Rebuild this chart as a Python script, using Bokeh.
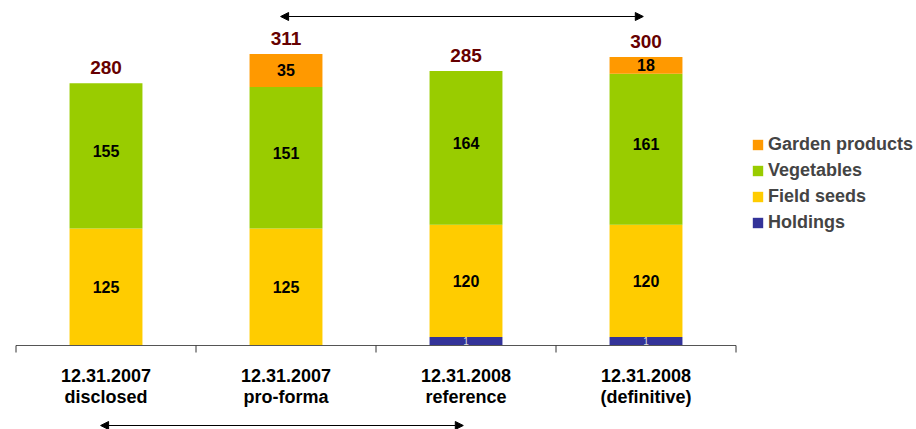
import numpy as np
from bokeh.plotting import figure
from bokeh.models import ColumnDataSource, Legend, LegendItem, Arrow, NormalHead, Range1d
from bokeh.core.properties import value
from bokeh.embed import file_html
from bokeh.resources import INLINE

# ---------------- data ----------------
cat_line1 = ["12.31.2007", "12.31.2007", "12.31.2008", "12.31.2008"]
cat_line2 = ["disclosed", "pro-forma", "reference", "(definitive)"]
holdings = [0, 0, 1, 1]
field_seeds = [125, 125, 120, 120]
vegetables = [155, 151, 164, 161]
garden_products = [0, 35, 0, 18]
totals = [280, 311, 285, 300]
series_names = ["Holdings", "Field seeds", "Vegetables", "Garden products"]
series_colors = ["#333399", "#FFCC00", "#99CC00", "#FF9900"]

# ---------------- layout constants ----------------
W, H = 916, 429
PX_X = 180.0      # pixels per category
X0 = 105.5        # pixel of first category centre
PX_Y = 0.937      # pixels per unit
AXIS_Y = 345      # pixel row of the zero line
FONT_NAME = "Liberation Sans"
FONT = value(FONT_NAME)
MIN_VISIBLE = 9   # minimum drawn height for tiny segments
VEG_NUDGE_PX = 5  # vegetables labels sit a little above segment centre
TOTAL_GAP_PX = 15.5

n = len(cat_line1)
x = np.arange(n, dtype=float)
hold_draw = np.array([max(v, MIN_VISIBLE) if v > 0 else 0 for v in holdings], dtype=float)
fs = np.array(field_seeds, dtype=float)
vg = np.array(vegetables, dtype=float)
gp = np.array(garden_products, dtype=float)

b1 = hold_draw
b2 = b1 + fs
b3 = b2 + vg
top = b3 + gp

src = ColumnDataSource(dict(x=x, Holdings=hold_draw, **{"Field seeds": fs}, Vegetables=vg,
                            **{"Garden products": gp}))

p = figure(width=W, height=H, output_backend="svg", toolbar_location=None,
           x_range=Range1d(-X0 / PX_X, (W - X0) / PX_X),
           y_range=Range1d(-(H - AXIS_Y) / PX_Y, AXIS_Y / PX_Y),
           x_axis_location=None, y_axis_location=None, min_border=0,
           outline_line_color=None, background_fill_color="white",
           border_fill_color="white")
p.grid.visible = False

renderers = p.vbar_stack(series_names, x="x", width=0.405, source=src,
                         color=series_colors, line_color=None)

# axis line and boundary ticks
p.segment(x0=[-0.5], y0=[0], x1=[n - 0.5], y1=[0], line_color="#555555", line_width=1.2)
tx = np.arange(n + 1) - 0.5
p.segment(x0=tx, y0=np.zeros(n + 1), x1=tx, y1=np.full(n + 1, -7 / PX_Y),
          line_color="#333333", line_width=1)

# segment labels
lab_x, lab_y, lab_t = [], [], []
for i in range(n):
    lab_x += [x[i], x[i]]
    lab_y += [(b1[i] + b2[i]) / 2, (b2[i] + b3[i]) / 2 + VEG_NUDGE_PX / PX_Y]
    lab_t += [str(field_seeds[i]), str(vegetables[i])]
    if garden_products[i] > 0:
        lab_x.append(x[i]); lab_y.append((b3[i] + top[i]) / 2); lab_t.append(str(garden_products[i]))
p.text(x=lab_x, y=lab_y, text=lab_t, text_font=FONT, text_font_style="bold",
       text_font_size="16px", text_align="center", text_baseline="middle", text_color="black")

hx = [x[i] for i in range(n) if holdings[i] > 0]
hy = [hold_draw[i] / 2 for i in range(n) if holdings[i] > 0]
ht = [str(holdings[i]) for i in range(n) if holdings[i] > 0]
p.text(x=hx, y=hy, text=ht, text_font=FONT, text_font_size="10px", text_align="center",
       text_baseline="middle", text_color="#DDDDDD")

# totals
p.text(x=x, y=top + TOTAL_GAP_PX / PX_Y, text=[str(t) for t in totals], text_font=FONT,
       text_font_style="bold", text_font_size="19px", text_align="center",
       text_baseline="middle", text_color="#660000")

# category labels (two lines)
p.text(x=x, y=np.full(n, (AXIS_Y - 375) / PX_Y), text=cat_line1, text_font=FONT,
       text_font_style="bold", text_font_size="18px", text_align="center",
       text_baseline="middle", text_color="black")
p.text(x=x, y=np.full(n, (AXIS_Y - 396) / PX_Y), text=cat_line2, text_font=FONT,
       text_font_style="bold", text_font_size="18px", text_align="center",
       text_baseline="middle", text_color="black")

# comparison arrows
for (a, b, py) in [(1, 3, 16), (0, 2, 425)]:
    yy = (AXIS_Y - py) / PX_Y
    p.add_layout(Arrow(x_start=a - 0.03, y_start=yy, x_end=b - 0.015, y_end=yy,
                       line_color="black", line_width=1,
                       start=NormalHead(size=8, fill_color="black", line_color="black"),
                       end=NormalHead(size=8, fill_color="black", line_color="black")))

legend = Legend(items=[LegendItem(label=series_names[k], renderers=[renderers[k]])
                       for k in [3, 2, 1, 0]],
                location=(751, 196), orientation="vertical",
                label_text_font=FONT_NAME, label_text_font_style="bold",
                label_text_font_size="18px", glyph_width=13, glyph_height=13,
                label_standoff=4, spacing=5, padding=0, margin=0, label_height=21,
                border_line_color=None, background_fill_alpha=0)
p.add_layout(legend)

open("out.html", "w").write(file_html(p, INLINE))
